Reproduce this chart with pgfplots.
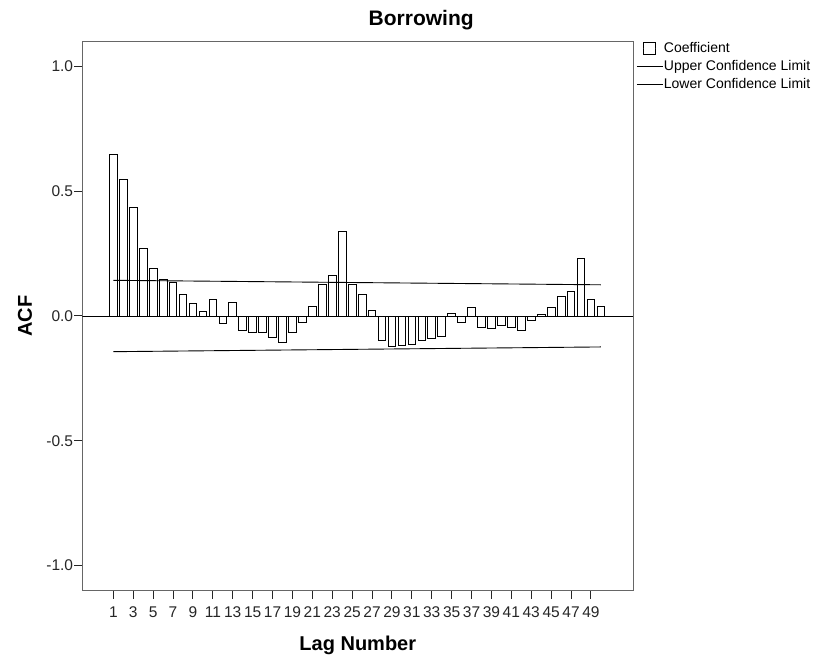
\documentclass[border=0pt]{standalone}
\usepackage{fontspec}
\setmainfont{Liberation Sans}
\usepackage{pgfplots}
\pgfplotsset{compat=1.18}
\begin{document}
\begin{tikzpicture}[x=1pt,y=1pt]
\useasboundingbox (0,0) rectangle (824,658);
\begin{axis}[
  at={(82.3pt,67.5pt)}, anchor=south west,
  scale only axis, width=551pt, height=549pt,
  xmin=-2.12, xmax=53.26, ymin=-1.1, ymax=1.1,
  axis line style={draw=black!60, line width=1.5pt},
  xtick={1,3,...,49}, ytick={-1,-0.5,0,0.5,1},
  tick align=outside, major tick length=8pt,
  tick style={black!85, line width=1pt},
  xtick pos=bottom, ytick pos=left,
  /pgf/number format/assume math mode=true,
  ticklabel style={font=\fontsize{15.5}{17}\selectfont, text=black!85},
  xticklabel style={inner sep=1pt, yshift=-7pt},
  yticklabel style={inner sep=1pt, /pgf/number format/.cd, fixed, fixed zerofill, precision=1},
  title={Borrowing},
  title style={at={(axis description cs:0.615,1.028)}, anchor=center, font=\bfseries\fontsize{21}{24}\selectfont},
  xlabel={Lag Number},
  xlabel style={at={(axis description cs:0.5,-0.0993)}, anchor=center, font=\bfseries\fontsize{20}{24}\selectfont},
  ylabel={ACF},
  ylabel style={at={(axis description cs:-0.104,0.5)}, anchor=center, font=\bfseries\fontsize{20}{24}\selectfont},
  legend style={at={(1,1)}, anchor=north west, xshift=3pt, yshift=0pt, draw=none, fill=none,
    inner sep=0pt, font=\fontsize{14}{16}\selectfont, row sep=4pt,
    nodes={inner sep=0.5pt, text height=10pt, text depth=3pt}},
  legend cell align=left,
]
\addplot[ybar, bar width=7.7pt, bar shift=0pt, fill=white, draw=black, line width=0.8pt,
  legend image code/.code={\draw[black, line width=0.8pt, fill=white] (6pt,-6pt) rectangle (18pt,6pt); \path[draw=none] (0pt,0pt) -- (26pt,0pt);}]
  table {
x y
1 0.649
2 0.549
3 0.435
4 0.271
5 0.189
6 0.145
7 0.133
8 0.086
9 0.050
10 0.019
11 0.066
12 -0.028
13 0.055
14 -0.059
15 -0.067
16 -0.065
17 -0.084
18 -0.104
19 -0.067
20 -0.027
21 0.037
22 0.128
23 0.161
24 0.337
25 0.128
26 0.086
27 0.023
28 -0.099
29 -0.120
30 -0.118
31 -0.114
32 -0.099
33 -0.090
34 -0.080
35 0.011
36 -0.027
37 0.035
38 -0.044
39 -0.050
40 -0.039
41 -0.047
42 -0.056
43 -0.016
44 0.007
45 0.035
46 0.078
47 0.099
48 0.230
49 0.067
50 0.039
};
\addlegendentry{Coefficient}
\addplot[black, line width=0.9pt, legend image code/.code={\draw[black, line width=0.9pt] (0pt,0pt) -- (26pt,0pt);}]
  coordinates {(1,0.143) (50,0.125)};
\addlegendentry{Upper Confidence Limit}
\addplot[black, line width=0.9pt, legend image code/.code={\draw[black, line width=0.9pt] (0pt,0pt) -- (26pt,0pt);}]
  coordinates {(1,-0.143) (50,-0.124)};
\addlegendentry{Lower Confidence Limit}
\addplot[black, line width=0.9pt, forget plot] coordinates {(-2.12,0) (53.26,0)};
\end{axis}
\end{tikzpicture}
\end{document}
